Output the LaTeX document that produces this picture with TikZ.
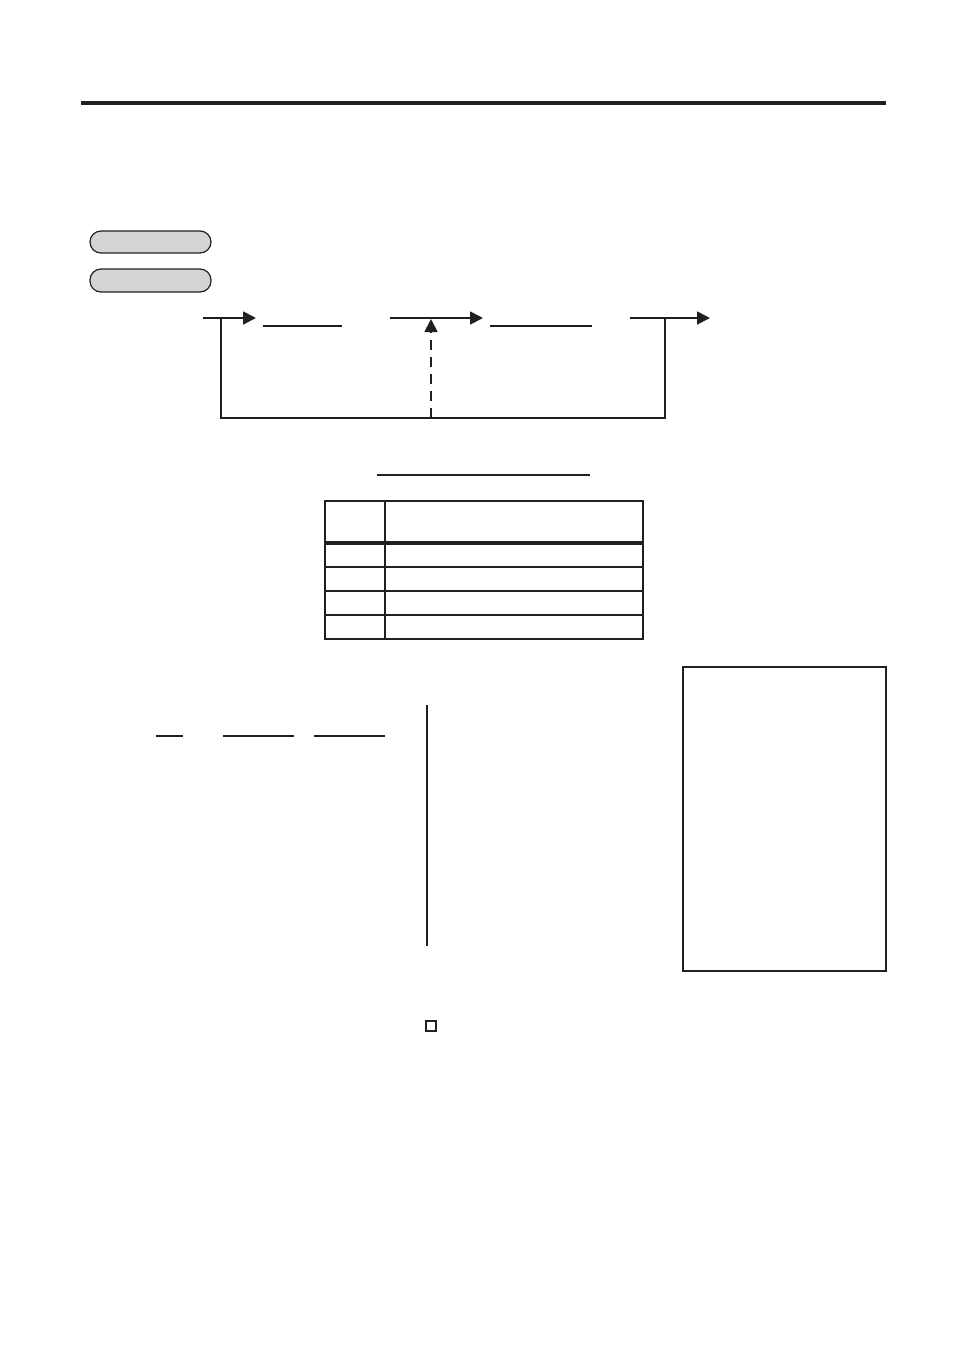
\documentclass[tikz,border=0pt]{standalone}
\usetikzlibrary{arrows.meta}

\definecolor{pillgray}{RGB}{212,212,212}
\definecolor{inkblack}{RGB}{35,31,32}

\tikzset{
  flowline/.style={inkblack, line width=0.9pt},
  flowarrow/.style={flowline, -{Triangle[length=6.5pt, width=6.5pt]}},
  pillbox/.style={draw=inkblack, fill=pillgray, line width=0.6pt, rounded corners=5.5pt},
  blankline/.style={inkblack, line width=0.75pt},
  framebox/.style={draw=inkblack, line width=1.1pt}
}

\begin{document}
\begin{tikzpicture}[x=0.5pt, y=-0.5pt]
    \useasboundingbox (0,0) rectangle (954,1350);

    % Heading rule
    \draw[inkblack, line width=2pt] (81,103) -- (886,103);

    % Key pills
    \draw[pillbox] (90,231) rectangle (211,253);
    \draw[pillbox] (90,269) rectangle (211,292);

    % Flow with return loop
    \coordinate (inL) at (203,318);
    \coordinate (stepA) at (256,318);
    \coordinate (outA) at (390,318);
    \coordinate (stepB) at (483,318);
    \coordinate (outB) at (630,318);
    \coordinate (exitR) at (710,318);
    \coordinate (loopL) at (221,318);
    \coordinate (loopR) at (665,318);
    \coordinate (baseL) at (221,418);
    \coordinate (baseR) at (665,418);
    \coordinate (skipB) at (431,418);
    \coordinate (skipT) at (431,319);

    \draw[flowarrow] (inL) -- (stepA);
    \draw[flowarrow] (outA) -- (stepB);
    \draw[flowarrow] (outB) -- (exitR);
    \draw[flowline] (loopL) -- (baseL) -- (baseR) -- (loopR);
    \draw[flowarrow, dash pattern=on 5pt off 3.5pt] (skipB) -- (skipT);
    \draw[blankline] (263,326) -- (342,326);
    \draw[blankline] (490,326) -- (592,326);

    % Table with caption line
    \draw[blankline] (377,475) -- (590,475);
    \draw[framebox] (325,501) rectangle (643,639);
    \draw[inkblack, line width=1.6pt] (325,543) -- (643,543);
    \foreach \y in {567,591,615} { \draw[inkblack, line width=0.9pt] (325,\y) -- (643,\y); }
    \draw[inkblack, line width=0.9pt] (385,501) -- (385,639);

    % Lower left blanks and divider
    \draw[blankline] (156,736) -- (183,736);
    \draw[blankline] (223,736) -- (294,736);
    \draw[blankline] (314,736) -- (385,736);
    \draw[inkblack, line width=0.75pt] (427,705) -- (427,946);

    % Side panel
    \draw[framebox] (683,667) rectangle (886,971);

    % Small check box
    \draw[inkblack, line width=0.7pt] (426,1021) rectangle (436,1031);
\end{tikzpicture}
\end{document}
